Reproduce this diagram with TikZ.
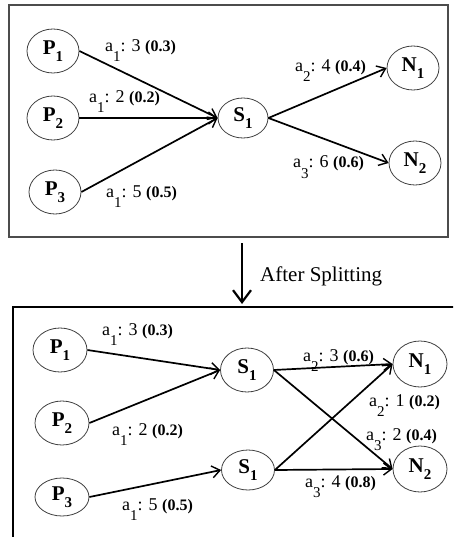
\documentclass[tikz,border=0pt]{standalone}
\usepackage{fontspec}
\setmainfont{Liberation Serif}
\usetikzlibrary{shapes.geometric,arrows.meta}
\newcommand{\edgelab}[3]{a\raisebox{-10pt}{\fontsize{15}{15}\selectfont #1}: #2 {\fontsize{16}{16}\selectfont\bfseries(#3)}}
\newcommand{\nlab}[2]{\textbf{#1}\raisebox{-7pt}{\fontsize{15}{15}\selectfont\textbf{#2}}}
\tikzset{
  gnode/.style={ellipse,draw=black!75,line width=0.8pt,minimum width=52pt,minimum height=44pt,inner sep=0pt,font=\fontsize{21}{21}\selectfont},
  edge/.style={line width=1.7pt,-{Straight Barb[length=8pt,width=12pt,line width=1.4pt]}},
  elab/.style={anchor=base west,inner sep=0pt,font=\fontsize{18}{18}\selectfont},
  frame/.style={line width=1.3pt}
}
\begin{document}
\begin{tikzpicture}[x=1pt,y=-1pt]
\useasboundingbox (0,0) rectangle (453,537);
\fill[white] (0,0) rectangle (453,537);
% top box
\draw[frame,draw=black!70] (9,5) rectangle (448,237);
\node[gnode] (tp1) at (53,51) {\nlab{P}{1}};
\node[gnode] (tp2) at (53,118) {\nlab{P}{2}};
\node[gnode] (tp3) at (55,192) {\nlab{P}{3}};
\node[gnode,minimum width=50pt,minimum height=40pt] (ts1) at (243,118) {\nlab{S}{1}};
\node[gnode] (tn1) at (413,68) {\nlab{N}{1}};
\node[gnode] (tn2) at (415,163) {\nlab{N}{2}};
\draw[edge] (tp1.east) -- (ts1.west);
\draw[edge] (tp2.east) -- (ts1.west);
\draw[edge] (tp3.east) -- (ts1.west);
\draw[edge] (ts1.east) -- (tn1.west);
\draw[edge] (ts1.east) -- (tn2.west);
\node[elab] (tl1) at (105,52) {\edgelab{1}{3}{0.3}};
\node[elab] (tl2) at (89,103) {\edgelab{1}{2}{0.2}};
\node[elab] (tl3) at (106,197) {\edgelab{1}{5}{0.5}};
\node[elab] (tl4) at (295,72) {\edgelab{2}{4}{0.4}};
\node[elab] (tl5) at (293,168) {\edgelab{3}{6}{0.6}};
% transition arrow
\coordinate (ar0) at (242,243);
\coordinate (ar1) at (242,304);
\draw[line width=2.4pt,-{Straight Barb[length=12pt,width=18pt,line width=2.2pt]}] (ar0) -- (ar1);
\node[anchor=base west,inner sep=0pt,font=\fontsize{21}{21}\selectfont] (after) at (260,281) {After Splitting};
% bottom box (cropped)
\begin{scope}
\clip (0,0) rectangle (453,537);
\draw[frame] (13,560) -- (13,307) -- (470,307);
\end{scope}
\node[gnode,minimum width=54pt] (bp1) at (60,350) {\nlab{P}{1}};
\node[gnode,minimum width=54pt] (bp2) at (62,423) {\nlab{P}{2}};
\node[gnode,minimum width=54pt,minimum height=38pt] (bp3) at (62,497) {\nlab{P}{3}};
\node[gnode,minimum width=53pt] (bs1) at (247,370) {\nlab{S}{1}};
\node[gnode,minimum width=53pt,minimum height=40pt] (bs2) at (248,470) {\nlab{S}{1}};
\node[gnode,minimum width=54pt,minimum height=46pt] (bn1) at (420,364) {\nlab{N}{1}};
\node[gnode,minimum width=54pt,minimum height=46pt] (bn2) at (420,469) {\nlab{N}{2}};
\draw[edge] (bp1.east) -- (bs1.west);
\draw[edge] (bp2.east) -- (bs1.west);
\draw[edge] (bp3.east) -- (bs2.west);
\draw[edge] (bs1.east) -- (bn1.west);
\draw[edge] (bs1.east) -- (bn2.west);
\draw[edge] (bs2.east) -- (bn1.west);
\draw[edge] (bs2.east) -- (bn2.west);
\node[elab] (bl1) at (102,335) {\edgelab{1}{3}{0.3}};
\node[elab] (bl2) at (112,435) {\edgelab{1}{2}{0.2}};
\node[elab] (bl3) at (122,510) {\edgelab{1}{5}{0.5}};
\node[elab] (bl4) at (303,361) {\edgelab{2}{3}{0.6}};
\node[elab] (bl5) at (369,406) {\edgelab{2}{1}{0.2}};
\node[elab] (bl6) at (366,440) {\edgelab{3}{2}{0.4}};
\node[elab] (bl7) at (305,487) {\edgelab{3}{4}{0.8}};
\end{tikzpicture}
\end{document}
